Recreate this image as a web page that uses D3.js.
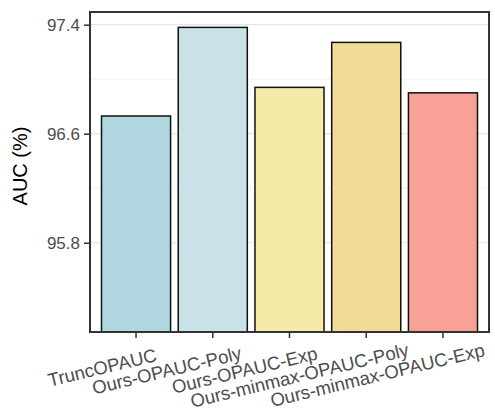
<!DOCTYPE html>
<html><head><meta charset="utf-8">
<script src="https://cdn.jsdelivr.net/npm/d3@7"></script>
<style>body{margin:0;background:#fff}</style>
</head><body>
<svg id="chart" width="495" height="412"></svg>
<script>
const categories = ["TruncOPAUC","Ours-OPAUC-Poly","Ours-OPAUC-Exp","Ours-minmax-OPAUC-Poly","Ours-minmax-OPAUC-Exp"];
const values = [96.73, 97.38, 96.94, 97.27, 96.90];
const colors = ["#B0D7E0","#C9E2E7","#F4EBA6","#F0DC94","#F8A196"];
const yTicks = [95.8, 96.6, 97.4];
const yMinor = [96.2, 97.0];
const yTitle = "AUC (%)";

const svg = d3.select("#chart");
const L = 90, R = 489, T = 12, B = 332;
const x = d3.scaleBand().domain(categories).range([L, R]).paddingInner(0.1).paddingOuter(0.15);
const y = d3.scaleLinear().domain([95.145, 97.493]).range([B, T]);

// gridlines
svg.append("g").selectAll("line.minor").data(yMinor).join("line")
  .attr("x1", L).attr("x2", R).attr("y1", d => y(d)).attr("y2", d => y(d))
  .attr("stroke", "#efefef").attr("stroke-width", 0.8);
svg.append("g").selectAll("line.major").data(yTicks).join("line")
  .attr("x1", L).attr("x2", R).attr("y1", d => y(d)).attr("y2", d => y(d))
  .attr("stroke", "#e6e6e6").attr("stroke-width", 1.2);

// bars
svg.append("g").selectAll("rect").data(categories).join("rect")
  .attr("x", d => x(d)).attr("width", x.bandwidth())
  .attr("y", (d, i) => y(values[i])).attr("height", (d, i) => B - y(values[i]))
  .attr("fill", (d, i) => colors[i]).attr("stroke", "#111").attr("stroke-width", 1.5);

// y axis
const ya = svg.append("g").attr("transform", `translate(${L},0)`)
  .call(d3.axisLeft(y).tickValues(yTicks).tickSize(6).tickPadding(4).tickFormat(d3.format(".1f")));
ya.select(".domain").remove();
ya.selectAll(".tick line").attr("stroke", "#333").attr("stroke-width", 1.5);
ya.selectAll(".tick text").attr("fill", "#4d4d4d").style("font-family", "Liberation Sans, Arial, sans-serif").style("font-size", "17px");

// x axis
const xa = svg.append("g").attr("transform", `translate(0,${B})`)
  .call(d3.axisBottom(x).tickSize(6).tickFormat(""));
xa.select(".domain").remove();
xa.selectAll(".tick line").attr("stroke", "#333").attr("stroke-width", 1.5);

// x labels rotated
const labs = svg.append("g").selectAll("text").data(categories).join("text")
  .attr("fill", "#4d4d4d")
  .style("font-family", "Liberation Sans, Arial, sans-serif").style("font-size", "18.5px")
  .text(d => d);
labs.each(function(d) {
  const len = this.getComputedTextLength();
  const cx = x(d) + x.bandwidth() / 2;
  d3.select(this).attr("transform", `translate(${cx},366) rotate(-13.5)`).attr("x", -0.8 * len).attr("y", 0);
});

// panel border
svg.append("rect").attr("x", L).attr("y", T).attr("width", R - L).attr("height", B - T)
  .attr("fill", "none").attr("stroke", "#333").attr("stroke-width", 2);

// y title
svg.append("text").attr("transform", `translate(27,${(T + B) / 2 - 6}) rotate(-90)`)
  .attr("text-anchor", "middle").attr("fill", "#000")
  .style("font-family", "Liberation Sans, Arial, sans-serif").style("font-size", "20px")
  .text(yTitle);
</script>
</body></html>
